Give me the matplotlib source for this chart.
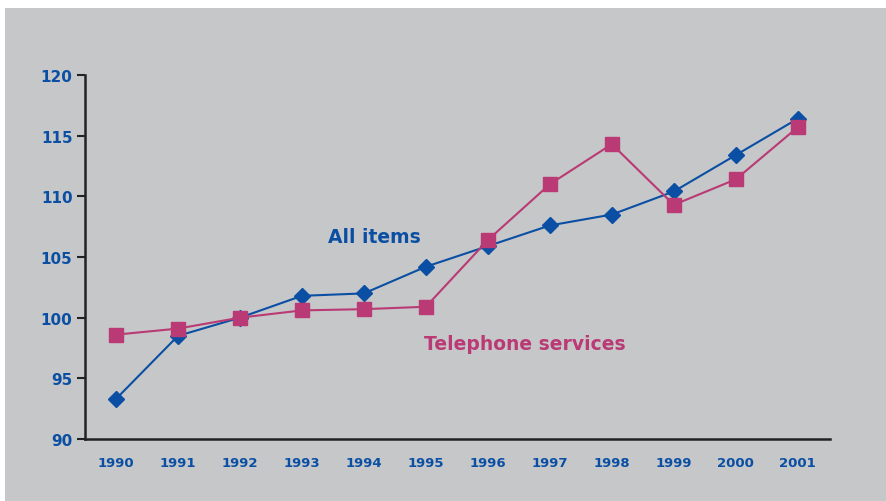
import matplotlib
matplotlib.use("Agg")
import matplotlib.pyplot as plt
import matplotlib.patches as patches

years = [1990, 1991, 1992, 1993, 1994, 1995, 1996, 1997, 1998, 1999, 2000, 2001]
all_items = [93.3, 98.5, 100.0, 101.8, 102.0, 104.2, 105.9, 107.6, 108.5, 110.4, 113.4, 116.4]
telephone = [98.6, 99.1, 100.0, 100.6, 100.7, 100.9, 106.4, 111.0, 114.3, 109.3, 111.4, 115.7]
y_ticks = [90, 95, 100, 105, 110, 115, 120]

blue = '#0a4fa3'
pink = '#b93a74'
bg = '#c6c7c9'

fig = plt.figure(figsize=(8.86, 5.02), dpi=100)
fig.patch.set_facecolor(bg)

# white margin along the top and left edges
top_strip = patches.Rectangle((0, 1 - 9 / 502), 1, 9 / 502, transform=fig.transFigure,
                              facecolor='white', edgecolor='none', zorder=-10)
left_strip = patches.Rectangle((0, 0), 5 / 886, 1, transform=fig.transFigure,
                               facecolor='white', edgecolor='none', zorder=-10)
fig.patches.extend([top_strip, left_strip])

ax = fig.add_axes([85 / 886, 1 - 440 / 502, (830 - 85) / 886, (440 - 76) / 502])
ax.set_facecolor('none')

ax.plot(years, all_items, color=blue, lw=1.5, marker='D', markersize=8.5,
        markeredgecolor=blue, markerfacecolor=blue, zorder=3)
ax.plot(years, telephone, color=pink, lw=1.5, marker='s', markersize=10.5,
        markeredgecolor=pink, markerfacecolor=pink, zorder=3)

ax.set_xlim(1989.5, 2001.52)
ax.set_ylim(90, 120)
ax.set_yticks(y_ticks)
ax.set_xticks(years)

for s in ['top', 'right']:
    ax.spines[s].set_visible(False)
for s in ['left', 'bottom']:
    ax.spines[s].set_color('#222222')
    ax.spines[s].set_linewidth(1.8)

ax.tick_params(axis='y', direction='out', length=6, width=1.5, color='#222222',
               labelcolor=blue, labelsize=11, pad=3)
ax.tick_params(axis='x', length=0, labelcolor=blue, labelsize=9.5, pad=12.5)
for lbl in ax.get_yticklabels():
    lbl.set_fontweight('bold')
for lbl in ax.get_xticklabels():
    lbl.set_fontweight('bold')

ax.text(1993.42, 106.7, 'All items', color=blue, fontsize=13.5, fontweight='bold',
        ha='left', va='center')
ax.text(1994.97, 97.9, 'Telephone services', color=pink, fontsize=13.5,
        fontweight='bold', ha='left', va='center')

fig.savefig('out.png', dpi=100, facecolor=fig.get_facecolor())
